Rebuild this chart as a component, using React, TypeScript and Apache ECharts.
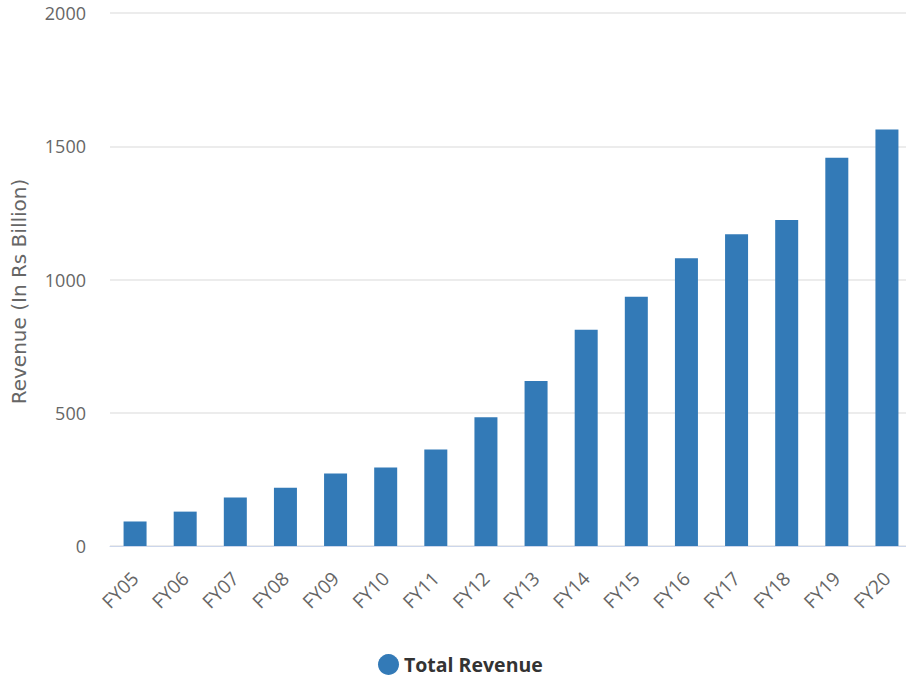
import React, { useEffect, useRef } from "react";
import * as echarts from "echarts";

const categories = ["FY05","FY06","FY07","FY08","FY09","FY10","FY11","FY12","FY13","FY14","FY15","FY16","FY17","FY18","FY19","FY20"];
const revenue = [92, 129, 182, 219, 272, 295, 362, 483, 619, 811, 935, 1080, 1170, 1223, 1457, 1563];
const seriesName = "Total Revenue";
const yAxisName = "Revenue (In Rs Billion)";

export default function App() {
  const ref = useRef<HTMLDivElement>(null);
  useEffect(() => {
    const chart = echarts.init(ref.current!, null, { renderer: "svg" });
    chart.setOption({
      animation: false,
      textStyle: { fontFamily: "Open Sans" },
      grid: { left: 110, right: -6, top: 13, bottom: 137, containLabel: false, outerBoundsMode: "none" },
      legend: {
        data: [{ name: seriesName, icon: "circle" }],
        bottom: 3,
        left: 373,
        itemWidth: 21,
        itemHeight: 21,
        itemGap: 10,
        textStyle: { fontSize: 19.5, fontWeight: "bold", color: "#333", fontFamily: "Open Sans" },
      },
      xAxis: {
        type: "category",
        data: categories,
        axisLine: { lineStyle: { color: "#ccd6eb" } },
        axisTick: { show: false },
        axisLabel: { rotate: 45, color: "#666", fontSize: 19, margin: 29, interval: 0 },
      },
      yAxis: {
        type: "value",
        min: 0,
        max: 2000,
        interval: 500,
        name: yAxisName,
        nameLocation: "middle",
        nameGap: 81,
        nameTextStyle: { color: "#666", fontSize: 20, fontFamily: "DejaVu Sans", padding: [0, 24, 0, 0] },
        axisLabel: { color: "#666", fontSize: 18, margin: 24, formatter: (v: number) => String(v) },
        splitLine: { lineStyle: { color: "#e6e6e6", width: 1.5 } },
      },
      series: [
        {
          name: seriesName,
          type: "bar",
          data: revenue,
          barWidth: 23,
          itemStyle: { color: "#337ab7" },
        },
      ],
    });
    return () => chart.dispose();
  }, []);
  return <div ref={ref} style={{ position: "absolute", left: 0, top: 0, width: 906, height: 683 }} />;
}
